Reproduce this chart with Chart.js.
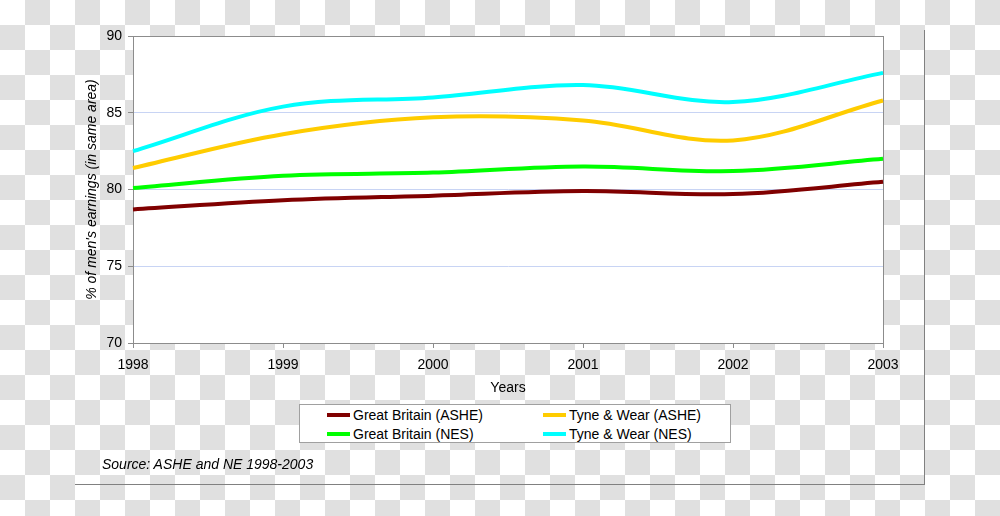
<!DOCTYPE html>
<html>
<head>
<meta charset="utf-8">
<title>Women's earnings as % of men's</title>
<script src="https://cdn.jsdelivr.net/npm/chart.js@4.4.1/dist/chart.umd.min.js"></script>
<style>
    html, body {
        margin: 0;
        padding: 0;
        width: 1000px;
        height: 516px;
        overflow: hidden;
    }
    body {
        position: relative;
        background: repeating-conic-gradient(#e0e0e0 0% 25%, #ffffff 0% 50%) 0 0 / 50px 50px;
        font-family: "Liberation Sans", Arial, sans-serif;
    }
    #frame {
        position: absolute;
        left: 75px;
        top: 30px;
        width: 850px;
        height: 455px;
        box-sizing: border-box;
        border-right: 1px solid #808080;
        border-bottom: 1px solid #808080;
    }
    #chart {
        position: absolute;
        left: 0;
        top: 0;
    }
    #legend {
        position: absolute;
        left: 299px;
        top: 404px;
        width: 432px;
        height: 39px;
        box-sizing: border-box;
        border: 1px solid #a0a0a0;
        background: #fff;
        padding-left: 27px;
        display: grid;
        grid-template-columns: 216px 1fr;
        grid-auto-rows: 19px;
        font-size: 14px;
        color: #000;
    }
    .item {
        display: flex;
        align-items: center;
        white-space: nowrap;
    }
    .swatch {
        width: 23px;
        height: 4px;
        margin-right: 3px;
    }
    #source {
        position: absolute;
        left: 102px;
        top: 456px;
        font-size: 14px;
        line-height: 16px;
        font-style: italic;
        color: #000;
    }
</style>
</head>
<body>
<div id="frame"></div>
<canvas id="chart" width="1000" height="516"></canvas>
<div id="legend"></div>
<div id="source">Source: ASHE and NE 1998-2003</div>

<script>
// values
const years = ["1998", "1999", "2000", "2001", "2002", "2003"];
const gbAshe = [78.7, 79.3, 79.6, 79.9, 79.7, 80.5];
const twAshe = [81.4, 83.6, 84.7, 84.5, 83.2, 85.8];
const gbNes = [80.1, 80.9, 81.1, 81.5, 81.2, 82.0];
const twNes = [82.5, 85.4, 86.0, 86.8, 85.7, 87.6];
const yTicks = [70, 75, 80, 85, 90];

const gridBlue = "#c8d4f4";
const axisGray = "#8c8c8c";

Chart.defaults.font.family = "'Liberation Sans', Arial, sans-serif";
Chart.defaults.font.size = 14;
Chart.defaults.color = "#000";

// white plot area behind the grid, gray frame round it before the lines
const plotArea = {
    id: "plotArea",
    beforeDraw(chart) {
        const a = chart.chartArea;
        const ctx = chart.ctx;
        ctx.save();
        ctx.fillStyle = "#fff";
        ctx.fillRect(a.left, a.top, a.right - a.left, a.bottom - a.top);
        ctx.restore();
    },
    beforeDatasetsDraw(chart) {
        const a = chart.chartArea;
        const ctx = chart.ctx;
        ctx.save();
        ctx.strokeStyle = axisGray;
        ctx.lineWidth = 1;
        ctx.strokeRect(Math.round(a.left) + 0.5, Math.round(a.top) + 0.5,
            Math.round(a.right - a.left), Math.round(a.bottom - a.top));
        ctx.restore();
    }
};

function line(label, data, color) {
    return {
        label: label,
        data: data,
        borderColor: color,
        backgroundColor: color,
        borderWidth: 4,
        pointRadius: 0,
        tension: 0.35,
        fill: false
    };
}

const chart = new Chart(document.getElementById("chart"), {
    type: "line",
    data: {
        labels: years,
        datasets: [
            line("Great Britain (ASHE)", gbAshe, "#800000"),
            line("Tyne & Wear (ASHE)", twAshe, "#ffcc00"),
            line("Great Britain (NES)", gbNes, "#00ff00"),
            line("Tyne & Wear (NES)", twNes, "#00ffff")
        ]
    },
    plugins: [plotArea],
    options: {
        responsive: false,
        animation: false,
        devicePixelRatio: 1,
        layout: { padding: { left: 80, right: 117, top: 36, bottom: 118 } },
        plugins: {
            legend: { display: false },
            tooltip: { enabled: false }
        },
        scales: {
            x: {
                type: "category",
                offset: false,
                afterFit(scale) { scale.height = 55; },
                grid: {
                    drawOnChartArea: false,
                    drawTicks: true,
                    tickLength: 5,
                    tickColor: axisGray
                },
                border: { display: true, color: axisGray },
                ticks: { padding: 9, maxRotation: 0, autoSkip: false },
                title: {
                    display: true,
                    text: "Years",
                    padding: { top: 0, bottom: 1 }
                }
            },
            y: {
                min: yTicks[0],
                max: yTicks[yTicks.length - 1],
                afterFit(scale) { scale.width = 53; },
                afterBuildTicks(scale) {
                    scale.ticks = yTicks.map(v => ({ value: v }));
                },
                grid: {
                    color: ctx => (ctx.tick && (ctx.tick.value === 70 || ctx.tick.value === 90)) ? "rgba(0,0,0,0)" : gridBlue,
                    tickColor: axisGray,
                    tickLength: 5,
                    lineWidth: 1
                },
                border: { display: true, color: axisGray },
                ticks: { padding: 6 },
                title: {
                    display: true,
                    text: "% of men's earnings (in same area)",
                    font: { style: "italic" },
                    padding: { top: 4, bottom: 0 }
                }
            }
        }
    }
});

// legend as real html, built from the chart's own datasets
const legendEl = document.getElementById("legend");
chart.data.datasets.forEach(ds => {
    const item = document.createElement("div");
    item.className = "item";
    const swatch = document.createElement("span");
    swatch.className = "swatch";
    swatch.style.background = ds.borderColor;
    const text = document.createElement("span");
    text.textContent = ds.label;
    item.appendChild(swatch);
    item.appendChild(text);
    legendEl.appendChild(item);
});
</script>
</body>
</html>
